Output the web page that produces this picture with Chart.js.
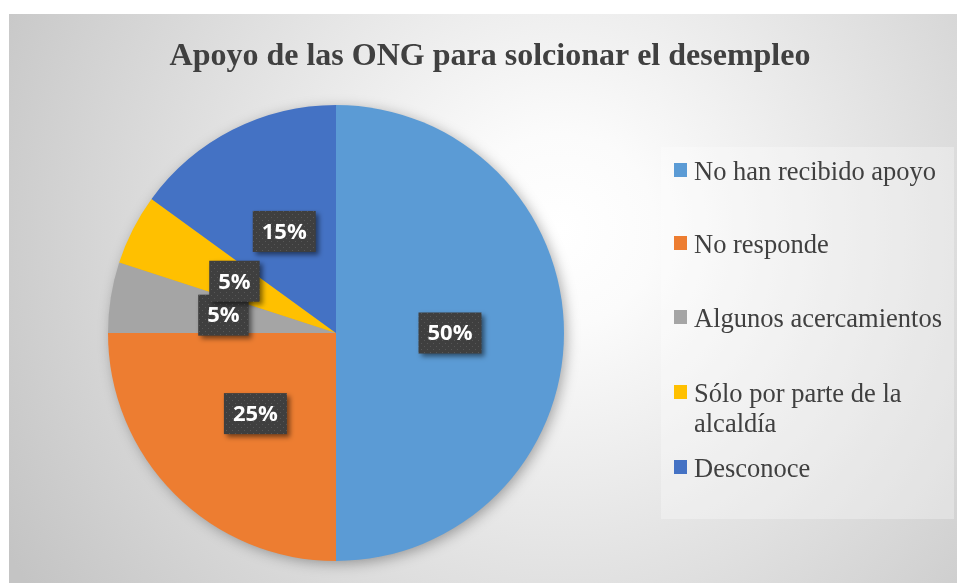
<!DOCTYPE html>
<html>
<head>
<meta charset="utf-8">
<script src="https://cdn.jsdelivr.net/npm/chart.js@4"></script>
<style>
    body { margin: 0; background: #fff; }
    #wrap { width: 957px; height: 583px; position: relative; }
</style>
</head>
<body>
<div id="wrap"><canvas id="chart-pie"></canvas></div>
<script>

let chartTitle = 'Apoyo de las ONG para solcionar el desempleo';
let labels = ['No han recibido apoyo', 'No responde', 'Algunos acercamientos', 'Sólo por parte de la alcaldía', 'Desconoce'];
let values = [50, 25, 5, 5, 15];
let colors = ['#5B9BD5', '#ED7D31', '#A5A5A5', '#FFC000', '#4472C4'];

// baselines of legend entries (Excel spacing)
let legendY = [180, 253, 327, 402, 477];

function dotPattern(ctx) {
    let c = document.createElement('canvas');
    c.width = 6;
    c.height = 6;
    let p = c.getContext('2d');
    p.fillStyle = '#3f3f3f';
    p.fillRect(0, 0, 6, 6);
    p.fillStyle = '#575757';
    p.fillRect(1, 1, 1, 1);
    p.fillRect(4, 4, 1, 1);
    return ctx.createPattern(c, 'repeat');
}

function wrapText(ctx, text, maxW) {
    let words = text.split(' ');
    let lines = [];
    let line = '';
    for (let i = 0; i < words.length; i++) {
        let test = line ? line + ' ' + words[i] : words[i];
        if (ctx.measureText(test).width > maxW && line) {
            lines.push(line);
            line = words[i];
        } else {
            line = test;
        }
    }
    lines.push(line);
    return lines;
}

const backdrop = {
    id: 'backdrop',
    beforeDraw(chart) {
        let ctx = chart.ctx;
        ctx.save();
        ctx.fillStyle = '#ffffff';
        ctx.fillRect(0, 0, chart.width, chart.height);
        let g = ctx.createRadialGradient(560, 230, 0, 560, 230, 640);
        g.addColorStop(0, '#ffffff');
        g.addColorStop(0.15, '#fbfbfb');
        g.addColorStop(1, '#c4c4c4');
        ctx.fillStyle = g;
        ctx.fillRect(9, 14, chart.width - 9, chart.height - 14);

        ctx.font = 'bold 32px "Liberation Serif"';
        ctx.fillStyle = '#404040';
        ctx.textAlign = 'center';
        ctx.textBaseline = 'alphabetic';
        ctx.fillText(chartTitle, 490, 65);
        ctx.restore();
    },
    beforeDatasetsDraw(chart) {
        // soft shadow under the whole pie
        let arc = chart.getDatasetMeta(0).data[0];
        let ctx = chart.ctx;
        ctx.save();
        ctx.shadowColor = 'rgba(0,0,0,0.35)';
        ctx.shadowBlur = 14;
        ctx.shadowOffsetX = 3;
        ctx.shadowOffsetY = 3;
        ctx.fillStyle = '#999';
        ctx.beginPath();
        ctx.arc(arc.x, arc.y, arc.outerRadius - 1, 0, Math.PI * 2);
        ctx.fill();
        ctx.restore();
    },
    afterDatasetsDraw(chart) {
        let ctx = chart.ctx;
        let meta = chart.getDatasetMeta(0);
        let data = chart.data.datasets[0].data;
        let total = data.reduce((a, b) => a + b, 0);
        let pat = dotPattern(ctx);
        ctx.save();
        ctx.font = 'bold 22px "Open Sans"';
        ctx.textAlign = 'center';
        ctx.textBaseline = 'middle';
        meta.data.forEach(function (el, i) {
            let pos = el.tooltipPosition();
            let txt = Math.round(data[i] / total * 100) + '%';
            let w = ctx.measureText(txt).width + 18;
            let h = 41;
            ctx.save();
            ctx.shadowColor = 'rgba(0,0,0,0.5)';
            ctx.shadowBlur = 5;
            ctx.shadowOffsetX = 3;
            ctx.shadowOffsetY = 3;
            ctx.fillStyle = pat;
            ctx.fillRect(pos.x - w / 2, pos.y - h / 2, w, h);
            ctx.restore();
            ctx.fillStyle = '#ffffff';
            ctx.fillText(txt, pos.x, pos.y + 1);
        });
        ctx.restore();
    },
    afterDraw(chart) {
        let ctx = chart.ctx;
        ctx.save();
        ctx.fillStyle = 'rgba(255,255,255,0.3)';
        ctx.fillRect(661, 147, 293, 372);
        ctx.font = '26.5px "Liberation Serif"';
        ctx.textBaseline = 'alphabetic';
        ctx.textAlign = 'left';
        chart.data.labels.forEach(function (lab, i) {
            let y = legendY[i];
            ctx.fillStyle = chart.data.datasets[0].backgroundColor[i];
            ctx.fillRect(674, y - 17, 13, 14);
            ctx.fillStyle = '#404040';
            let lines = wrapText(ctx, lab, 258);
            lines.forEach(function (ln, k) {
                ctx.fillText(ln, 694, y + k * 30);
            });
        });
        ctx.restore();
    }
};

let ctx = document.getElementById('chart-pie');
let pieChart = new Chart(ctx, {
    type: 'pie',
    data: {
        labels: labels,
        datasets: [{
            data: values,
            backgroundColor: colors,
            borderWidth: 0
        }]
    },
    options: {
        responsive: true,
        maintainAspectRatio: false,
        animation: false,
        layout: {
            padding: { left: 108, right: 393, top: 105, bottom: 22 }
        },
        plugins: {
            legend: { display: false },
            title: { display: false },
            tooltip: { enabled: false }
        }
    },
    plugins: [backdrop]
});
</script>
</body>
</html>
